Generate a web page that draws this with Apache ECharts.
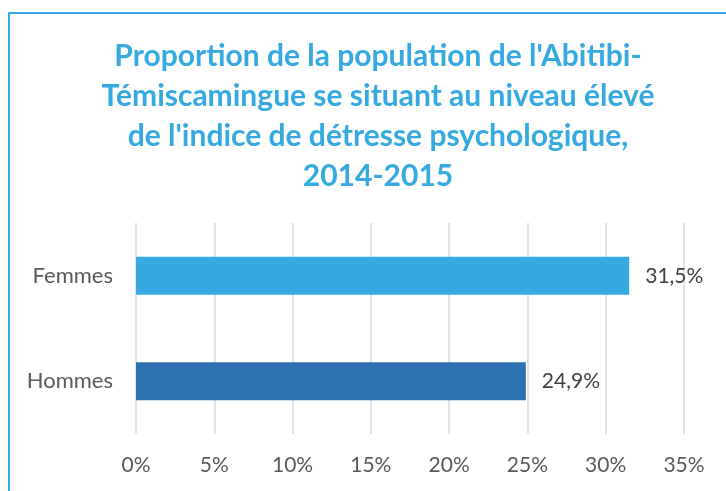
<!DOCTYPE html>
<html>
<head>
<meta charset="utf-8">
<script src="https://cdn.jsdelivr.net/npm/echarts@6/dist/echarts.min.js"></script>
<style>
  html, body { margin: 0; padding: 0; background: #fff; }
  #chart { width: 726px; height: 491px; }
</style>
</head>
<body>
<div id="chart"></div>
<script>
// données
var categories = ["Femmes", "Hommes"];
var values = [31.5, 24.9];
var barColors = ["#35A9E0", "#2E71B1"];
var titleText = "Proportion de la population de l'Abitibi-\nTémiscamingue se situant au niveau élevé\nde l'indice de détresse psychologique,\n2014-2015";

var myChart = echarts.init(document.getElementById("chart"));
var option = {
  backgroundColor: "#fff",
  animation: false,
  title: {
    text: titleText,
    left: 373,
    top: 31,
    textAlign: "center",
    textStyle: { fontFamily: "Lato", fontWeight: "bold", fontSize: 30, lineHeight: 40, color: "#35A9E0" },
  },
  graphic: [
    { type: "rect", shape: { x: 9, y: 13, width: 900, height: 700 }, style: { fill: "none", stroke: "#35A9E0", lineWidth: 2 } },
  ],
  grid: { left: 136, right: 42, top: 223, bottom: 57, containLabel: false },
  xAxis: {
    type: "value",
    min: 0,
    max: 35,
    interval: 5,
    axisLine: { show: false },
    axisTick: { show: false },
    splitLine: { lineStyle: { color: "#D9D9D9", width: 1.5 } },
    axisLabel: { formatter: "{value}%", margin: 21, fontFamily: "Lato", fontSize: 21, color: "#595959" },
  },
  yAxis: {
    type: "category",
    data: categories,
    inverse: true,
    axisLine: { show: false },
    axisTick: { show: false },
    axisLabel: { margin: 23, fontFamily: "Lato", fontSize: 22, color: "#595959" },
  },
  series: [
    {
      type: "bar",
      barWidth: 38,
      data: values.map(function (v, i) { return { value: v, itemStyle: { color: barColors[i] } }; }),
      label: {
        show: true,
        position: "right",
        distance: 16,
        fontFamily: "Lato",
        fontSize: 21,
        color: "#404040",
        formatter: function (p) { return String(p.value.toFixed(1)).replace(".", ",") + "%"; },
      },
    },
  ],
};
myChart.setOption(option);
</script>
</body>
</html>
